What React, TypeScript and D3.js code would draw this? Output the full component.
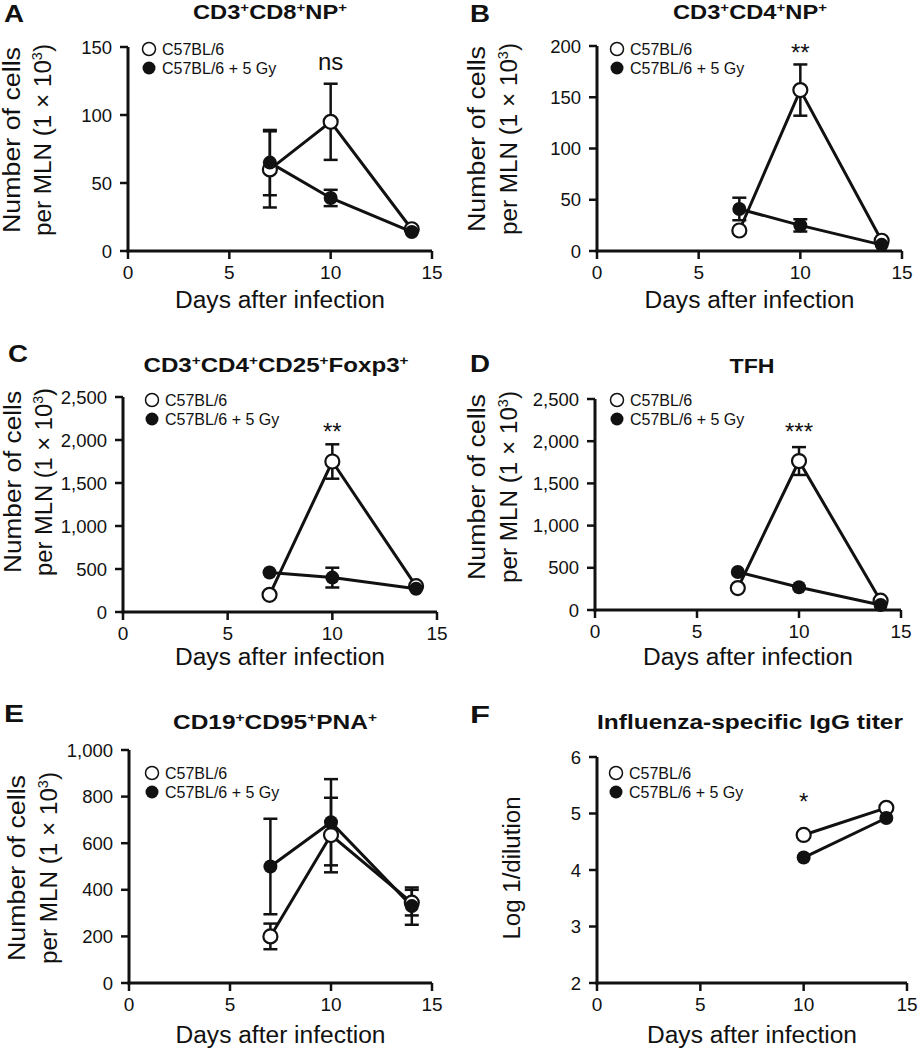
import React from "react";
import * as d3 from "d3";

// ---------- DATA ----------
const days = [7, 10, 14];
const daysF = [10, 14];
const xTicks = [0, 5, 10, 15];

const aOpen = [60, 95, 16];
const aOpenErr = [28, 28, 0];
const aFilled = [65, 39, 14];
const aFilledErr = [24, 6, 0];
const aTicks = [0, 50, 100, 150];

const bOpen = [20, 157, 10];
const bOpenErr = [0, 25, 0];
const bFilled = [41, 25, 6];
const bFilledErr = [11, 6, 0];
const bTicks = [0, 50, 100, 150, 200];

const cOpen = [200, 1750, 300];
const cOpenErr = [0, 200, 0];
const cFilled = [460, 400, 270];
const cFilledErr = [0, 115, 0];
const cTicks = [0, 500, 1000, 1500, 2000, 2500];

const dOpen = [260, 1765, 110];
const dOpenErr = [0, 165, 0];
const dFilled = [450, 270, 60];
const dFilledErr = [0, 0, 0];
const dTicks = [0, 500, 1000, 1500, 2000, 2500];

const eOpen = [200, 635, 345];
const eOpenErr = [55, 160, 55];
const eFilled = [500, 690, 330];
const eFilledErr = [205, 185, 80];
const eTicks = [0, 200, 400, 600, 800, 1000];

const fOpen = [4.62, 5.1];
const fOpenErr = [0, 0];
const fFilled = [4.22, 4.92];
const fFilledErr = [0, 0];
const fTicks = [2, 3, 4, 5, 6];

const legendOpen = "C57BL/6";
const legendFilled = "C57BL/6 + 5 Gy";
const xTitle = "Days after infection";

const FONT = "'Liberation Sans', Arial, Helvetica, sans-serif";

type TitlePart = { t: string; sup?: boolean };

interface PanelCfg {
  letter: string;
  letterX: number;
  letterY: number;
  title: TitlePart[];
  titleX: number;
  titleY: number;
  titleLen: number;
  left: number;
  right: number;
  top: number;
  bottom: number;
  yDomain: [number, number];
  yTicks: number[];
  days: number[];
  open: number[];
  openErr: number[];
  filled: number[];
  filledErr: number[];
  sig: string;
  sigY: number;
  legX: number;
  legY: number;
  yLab: string[];
  yLabX: number[];
  yLabCy: number;
  yLabLen: number[];
  xTitleY: number;
}

const panels: PanelCfg[] = [
  {
    letter: "A", letterX: 4, letterY: 22,
    title: [{ t: "CD3" }, { t: "+", sup: true }, { t: "CD8" }, { t: "+", sup: true }, { t: "NP" }, { t: "+", sup: true }],
    titleX: 270, titleY: 19, titleLen: 154,
    left: 128, right: 432, top: 47, bottom: 251,
    yDomain: [0, 150], yTicks: aTicks,
    days, open: aOpen, openErr: aOpenErr, filled: aFilled, filledErr: aFilledErr,
    sig: "ns", sigY: 70,
    legX: 149, legY: 49,
    yLab: ["Number of cells", "per MLN (1 × 10"], yLabX: [20, 51], yLabCy: 140, yLabLen: [186, 192],
    xTitleY: 308,
  },
  {
    letter: "B", letterX: 470, letterY: 22,
    title: [{ t: "CD3" }, { t: "+", sup: true }, { t: "CD4" }, { t: "+", sup: true }, { t: "NP" }, { t: "+", sup: true }],
    titleX: 750, titleY: 19, titleLen: 154,
    left: 597, right: 902, top: 46, bottom: 251,
    yDomain: [0, 200], yTicks: bTicks,
    days, open: bOpen, openErr: bOpenErr, filled: bFilled, filledErr: bFilledErr,
    sig: "**", sigY: 61,
    legX: 617, legY: 49,
    yLab: ["Number of cells", "per MLN (1 × 10"], yLabX: [485, 517], yLabCy: 139, yLabLen: [186, 192],
    xTitleY: 308,
  },
  {
    letter: "C", letterX: 8, letterY: 362,
    title: [{ t: "CD3" }, { t: "+", sup: true }, { t: "CD4" }, { t: "+", sup: true }, { t: "CD25" }, { t: "+", sup: true }, { t: "Foxp3" }, { t: "+", sup: true }],
    titleX: 276, titleY: 372, titleLen: 265,
    left: 123, right: 437, top: 397, bottom: 612,
    yDomain: [0, 2500], yTicks: cTicks,
    days, open: cOpen, openErr: cOpenErr, filled: cFilled, filledErr: cFilledErr,
    sig: "**", sigY: 440,
    legX: 152, legY: 400,
    yLab: ["Number of cells", "per MLN (1 × 10"], yLabX: [21, 52], yLabCy: 482, yLabLen: [182, 188],
    xTitleY: 665,
  },
  {
    letter: "D", letterX: 470, letterY: 372,
    title: [{ t: "TFH" }],
    titleX: 752, titleY: 373, titleLen: 45,
    left: 595, right: 901, top: 399, bottom: 610,
    yDomain: [0, 2500], yTicks: dTicks,
    days, open: dOpen, openErr: dOpenErr, filled: dFilled, filledErr: dFilledErr,
    sig: "***", sigY: 440,
    legX: 617, legY: 400,
    yLab: ["Number of cells", "per MLN (1 × 10"], yLabX: [485, 517], yLabCy: 487, yLabLen: [186, 192],
    xTitleY: 665,
  },
  {
    letter: "E", letterX: 4, letterY: 722,
    title: [{ t: "CD19" }, { t: "+", sup: true }, { t: "CD95" }, { t: "+", sup: true }, { t: "PNA" }, { t: "+", sup: true }],
    titleX: 275, titleY: 729, titleLen: 204,
    left: 129, right: 432, top: 750, bottom: 983,
    yDomain: [0, 1000], yTicks: eTicks,
    days, open: eOpen, openErr: eOpenErr, filled: eFilled, filledErr: eFilledErr,
    sig: "", sigY: 0,
    legX: 152, legY: 773,
    yLab: ["Number of cells", "per MLN (1 × 10"], yLabX: [25, 57], yLabCy: 868, yLabLen: [186, 192],
    xTitleY: 1043,
  },
  {
    letter: "F", letterX: 470, letterY: 723,
    title: [{ t: "Influenza-specific IgG titer" }],
    titleX: 750, titleY: 729, titleLen: 306,
    left: 597, right: 907, top: 757, bottom: 983,
    yDomain: [2, 6], yTicks: fTicks,
    days: daysF, open: fOpen, openErr: fOpenErr, filled: fFilled, filledErr: fFilledErr,
    sig: "*", sigY: 810,
    legX: 616, legY: 773,
    yLab: ["Log 1/dilution"], yLabX: [520], yLabCy: 868, yLabLen: [143],
    xTitleY: 1043,
  },
];

const fmt = d3.format(",");

function Panel({ p }: { p: PanelCfg }) {
  const x = d3.scaleLinear().domain([0, 15]).range([p.left, p.right]);
  const y = d3.scaleLinear().domain(p.yDomain).range([p.bottom, p.top]);
  const line = d3
    .line<number>()
    .x((_, i) => x(p.days[i]))
    .y((v) => y(v));
  const cap = 7;
  const errBars = (vals: number[], errs: number[], key: string) =>
    vals.map((v, i) =>
      errs[i] > 0 ? (
        <g key={key + i} stroke="#111" strokeWidth={2.5}>
          <line x1={x(p.days[i])} x2={x(p.days[i])} y1={y(v - errs[i])} y2={y(v + errs[i])} />
          <line x1={x(p.days[i]) - cap} x2={x(p.days[i]) + cap} y1={y(v + errs[i])} y2={y(v + errs[i])} />
          <line x1={x(p.days[i]) - cap} x2={x(p.days[i]) + cap} y1={y(v - errs[i])} y2={y(v - errs[i])} />
        </g>
      ) : null
    );
  const isNum = p.yLab.length === 2;
  return (
    <g fontFamily={FONT} fill="#111">
      {/* panel letter */}
      <text x={p.letterX} y={p.letterY} fontSize={24} fontWeight="bold" textLength={20} lengthAdjust="spacingAndGlyphs">
        {p.letter}
      </text>
      {/* title */}
      <text
        x={p.titleX - p.titleLen / 2}
        y={p.titleY}
        fontSize={20.5}
        fontWeight="bold"
        textLength={p.titleLen}
        lengthAdjust="spacingAndGlyphs"
      >
        {p.title.map((t, i) =>
          t.sup ? (
            <tspan key={i} fontSize={13} dy={-7.5}>
              {t.t}
            </tspan>
          ) : (
            <tspan key={i} dy={i > 0 && p.title[i - 1].sup ? 7.5 : 0}>
              {t.t}
            </tspan>
          )
        )}
      </text>
      {/* y axis */}
      <line x1={p.left} x2={p.left} y1={p.top} y2={p.bottom + 1.5} stroke="#111" strokeWidth={3} />
      {p.yTicks.map((t) => (
        <g key={"yt" + t}>
          <line x1={p.left - 8} x2={p.left} y1={y(t)} y2={y(t)} stroke="#111" strokeWidth={2.5} />
          <text x={p.left - 16} y={y(t)} dy="0.36em" fontSize={18.5} textAnchor="end">
            {fmt(t)}
          </text>
        </g>
      ))}
      {/* x axis */}
      <line x1={p.left - 1.5} x2={p.right} y1={p.bottom} y2={p.bottom} stroke="#111" strokeWidth={3} />
      {xTicks.map((t) => (
        <g key={"xt" + t}>
          <line x1={x(t)} x2={x(t)} y1={p.bottom} y2={p.bottom + 8} stroke="#111" strokeWidth={2.5} />
          <text x={x(t)} y={p.bottom + 28} fontSize={19} textAnchor="middle">
            {t}
          </text>
        </g>
      ))}
      <text
        x={(p.left + p.right) / 2 - 105}
        y={p.xTitleY}
        fontSize={23.5}
        textLength={210}
        lengthAdjust="spacingAndGlyphs"
      >
        {xTitle}
      </text>
      {/* y label */}
      {p.yLab.map((s, i) => (
        <text
          key={"yl" + i}
          transform={`translate(${p.yLabX[i]},${p.yLabCy + p.yLabLen[i] / 2}) rotate(-90)`}
          fontSize={23.5}
          textLength={p.yLabLen[i]}
          lengthAdjust="spacingAndGlyphs"
        >
          {s}
          {isNum && i === 1 ? (
            <>
              <tspan fontSize={14} dy={-9}>3</tspan>
              <tspan dy={9}>)</tspan>
            </>
          ) : null}
        </text>
      ))}
      {/* lines */}
      <path d={line(p.open) || ""} fill="none" stroke="#111" strokeWidth={3} />
      <path d={line(p.filled) || ""} fill="none" stroke="#111" strokeWidth={3} />
      {errBars(p.open, p.openErr, "eo")}
      {errBars(p.filled, p.filledErr, "ef")}
      {p.open.map((v, i) => (
        <circle key={"co" + i} cx={x(p.days[i])} cy={y(v)} r={7} fill="#fff" stroke="#111" strokeWidth={2.2} />
      ))}
      {p.filled.map((v, i) => (
        <circle key={"cf" + i} cx={x(p.days[i])} cy={y(v)} r={7} fill="#111" />
      ))}
      {/* significance */}
      {p.sig ? (
        <text x={x(10)} y={p.sigY} fontSize={24} textAnchor="middle">
          {p.sig}
        </text>
      ) : null}
      {/* legend */}
      <circle cx={p.legX} cy={p.legY} r={6.5} fill="#fff" stroke="#111" strokeWidth={1.5} />
      <text x={p.legX + 13} y={p.legY + 5.5} fontSize={16}>
        {legendOpen}
      </text>
      <circle cx={p.legX} cy={p.legY + 19} r={6.5} fill="#111" />
      <text x={p.legX + 13} y={p.legY + 24.5} fontSize={16}>
        {legendFilled}
      </text>
    </g>
  );
}

export default function App() {
  return (
    <svg
      width={921}
      height={1050}
      viewBox="0 0 921 1050"
      style={{ position: "absolute", left: 0, top: 0, background: "#fff" }}
    >
      <rect x={0} y={0} width={921} height={1050} fill="#fff" />
      {panels.map((p) => (
        <Panel key={p.letter} p={p} />
      ))}
    </svg>
  );
}
